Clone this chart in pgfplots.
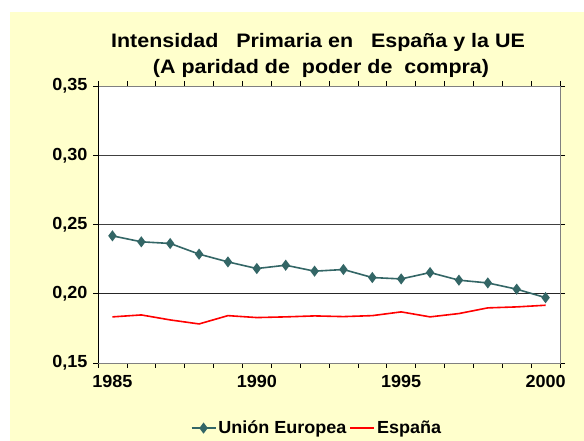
\documentclass[border=0pt]{standalone}
\usepackage{pgfplots}
\pgfplotsset{compat=1.18}
\usepackage{fontspec}
\setmainfont{Liberation Sans}[FakeStretch=1.03]
\newfontfamily\titlefont{Liberation Sans}[FakeStretch=1.1]
\definecolor{bg}{HTML}{FFFFCC}
\definecolor{ue}{HTML}{336666}
\definecolor{es}{HTML}{FF0000}
\begin{document}
\begin{tikzpicture}[x=1pt,y=1pt]
\path[use as bounding box] (0,0) rectangle (584,441);
\fill[bg] (10,0) rectangle (584,429);
\node[font=\titlefont\fontsize{19.5}{23}\selectfont\bfseries] at (318,399) {Intensidad\ \ \ Primaria en\ \ \ España y la UE};
\node[font=\titlefont\fontsize{19.5}{23}\selectfont\bfseries] at (321,373) {(A paridad de\ \ poder de\ \ compra)};
\begin{axis}[
  at={(98pt,78pt)}, anchor=south west, scale only axis,
  width=462pt, height=277pt,
  xmin=-0.5, xmax=15.5, ymin=0.15, ymax=0.35,
  axis background/.style={fill=white},
  axis line style={draw=gray},
  tick style={black, line width=0.6pt},
  tick align=outside,
  major tick length=5pt,
  ytick={0.15,0.20,0.25,0.30,0.35},
  yticklabel style={font=\fontsize{17.5}{20}\selectfont\bfseries, xshift=-2pt},
  /pgf/number format/.cd, assume math mode=true, use comma, fixed, fixed zerofill, precision=2, /pgfplots/.cd,
  xtick={-0.5,0.5,...,15.5}, xticklabels={},
  extra x ticks={0,5,10,15},
  extra x tick labels={1985,1990,1995,2000},
  extra x tick style={major tick length=0pt, xticklabel style={font=\fontsize{17.5}{20}\selectfont\bfseries, yshift=-9pt}},
  legend style={at={(0.474,-0.235)}, anchor=center, draw=none, fill=none,
    font=\fontsize{17.5}{20}\selectfont\bfseries, legend columns=2,
    /tikz/every even column/.append style={column sep=1pt}},
  legend image code/.code={\draw[mark repeat=2,mark phase=2,#1] plot coordinates {(0pt,0pt)(12pt,0pt)(24pt,0pt)};},
]
\draw[black!85, line width=0.9pt] (axis cs:-0.5,0.20) -- (axis cs:15.5,0.20);
\draw[black!75, line width=0.9pt] (axis cs:-0.5,0.25) -- (axis cs:15.5,0.25);
\draw[black!75, line width=0.9pt] (axis cs:-0.5,0.30) -- (axis cs:15.5,0.30);
\draw[black, line width=0.8pt] (rel axis cs:0,0) -- (rel axis cs:0,1);
\draw[black, line width=0.8pt] (rel axis cs:0,0) -- (rel axis cs:1,0);
\addplot[ue, line width=1.6pt, mark=diamond*, mark size=4.3pt, mark options={solid, fill=ue}] coordinates {
(0,0.2418) (1,0.2375) (2,0.2363) (3,0.2286) (4,0.2230) (5,0.2182) (6,0.2206) (7,0.2163)
(8,0.2175) (9,0.2117) (10,0.2107) (11,0.2153) (12,0.2098) (13,0.2078) (14,0.2033) (15,0.1972)};
\addlegendentry{Unión Europea}
\addplot[es, line width=1.6pt] coordinates {
(0,0.1833) (1,0.1847) (2,0.1811) (3,0.1782) (4,0.1842) (5,0.1828) (6,0.1833) (7,0.1840)
(8,0.1835) (9,0.1842) (10,0.1869) (11,0.1833) (12,0.1857) (13,0.1898) (14,0.1905) (15,0.1917)};
\addlegendentry{España}
\end{axis}
\end{tikzpicture}
\end{document}
